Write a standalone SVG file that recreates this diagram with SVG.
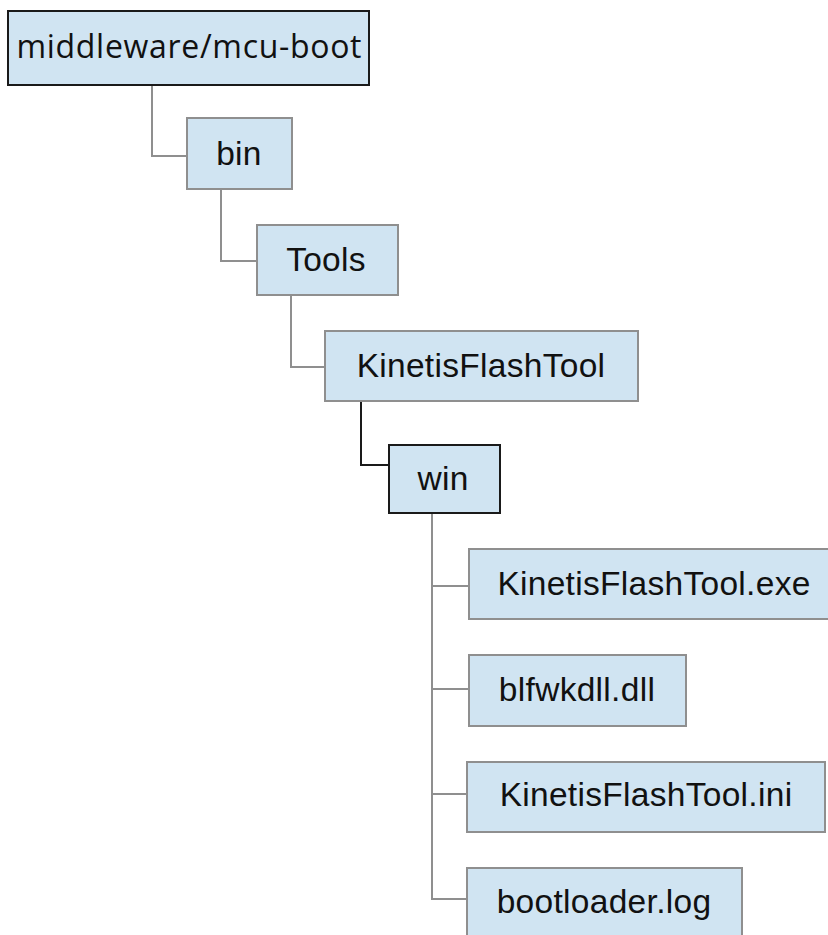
<svg xmlns="http://www.w3.org/2000/svg" width="828" height="935" viewBox="0 0 828 935">
<style>
.box{fill:#d0e4f2;stroke:#8f8f8f;stroke-width:2}
.dark{fill:#d0e4f2;stroke:#1a1a1a;stroke-width:2}
.lbl{font-family:"Liberation Sans",Arial,sans-serif;font-size:33.5px;letter-spacing:0.3px;fill:#111;text-anchor:middle}
.root{font-family:"Open Sans","Liberation Sans",sans-serif;font-size:32px;fill:#111;text-anchor:middle}
.ln{fill:none;stroke:#8f8f8f;stroke-width:2}
.lnd{fill:none;stroke:#1a1a1a;stroke-width:2}
</style>
<rect width="828" height="935" fill="#fff"/>
<g id="connectors">
<polyline class="ln" points="152,85 152,156 187,156"/>
<polyline class="ln" points="221,189 221,261 257,261"/>
<polyline class="ln" points="291,295 291,367 325,367"/>
<polyline class="lnd" points="361,401 361,465 389,465"/>
<polyline class="ln" points="432,513 432,899 467,899"/>
<line class="ln" x1="432" y1="586" x2="469" y2="586"/>
<line class="ln" x1="432" y1="689" x2="469" y2="689"/>
<line class="ln" x1="432" y1="794" x2="467" y2="794"/>
</g>
<g id="n-root">
<rect class="dark" x="8" y="11" width="361" height="74"/>
<text class="root" x="189" y="58" textLength="345">middleware/mcu-boot</text>
</g>
<g id="n-bin">
<rect class="box" x="187" y="118" width="105" height="71"/>
<text class="lbl" x="239" y="165">bin</text>
</g>
<g id="n-tools">
<rect class="box" x="257" y="225" width="141" height="70"/>
<text class="lbl" x="326" y="271">Tools</text>
</g>
<g id="n-kft">
<rect class="box" x="325" y="331" width="313" height="70"/>
<text class="lbl" x="481" y="377">KinetisFlashTool</text>
</g>
<g id="n-win">
<rect class="dark" x="389" y="445" width="111" height="68"/>
<text class="lbl" x="443" y="490">win</text>
</g>
<g id="n-exe">
<rect class="box" x="469" y="549" width="370" height="70"/>
<text class="lbl" x="654" y="595">KinetisFlashTool.exe</text>
</g>
<g id="n-dll">
<rect class="box" x="469" y="655" width="217" height="71"/>
<text class="lbl" x="577" y="701">blfwkdll.dll</text>
</g>
<g id="n-ini">
<rect class="box" x="467" y="762" width="358" height="70"/>
<text class="lbl" x="646" y="806">KinetisFlashTool.ini</text>
</g>
<g id="n-log">
<rect class="box" x="467" y="868" width="275" height="70"/>
<text class="lbl" x="604" y="913">bootloader.log</text>
</g>
</svg>
